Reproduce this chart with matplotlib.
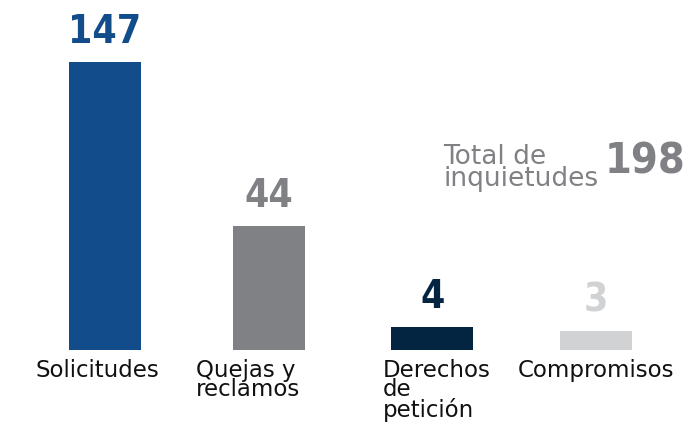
import matplotlib

matplotlib.use("Agg")
import matplotlib.pyplot as plt
import numpy as np

# ---------------------------------------------------------------------------
# Data
# ---------------------------------------------------------------------------
categories = ["Solicitudes", "Quejas y\nreclamos", "Derechos\nde\npetición", "Compromisos"]
values = [147, 44, 4, 3]
colors = ["#124c8a", "#808184", "#042541", "#d1d2d4"]
total_label = "Total de\ninquietudes"
total_value = 198

plt.rcParams["font.family"] = ["DejaVu Sans"]
NUM_STYLE = dict(family="DejaVu Sans", fontweight="bold", stretch="condensed")

W, H = 694, 425
fig = plt.figure(figsize=(W / 100, H / 100), dpi=100)
# axes spans full width; bottom at the bar baseline, top at the tallest bar
ax = fig.add_axes([0, 75 / H, 1, 288 / H])

# compressed power scale so the small categories stay visible
power = 0.7
ax.set_yscale(
    "function",
    functions=(lambda v: np.sign(v) * np.abs(v) ** power,
               lambda v: np.sign(v) * np.abs(v) ** (1 / power)),
)

x = np.arange(len(values))
ax.bar(x, values, width=[0.44, 0.44, 0.5, 0.44], color=colors)
ax.set_xlim(-0.642, 3.6)
ax.set_ylim(0, max(values))
ax.axis("off")

for xi, v, c in zip(x, values, colors):
    ax.annotate(str(v), (xi, v), xytext=(0, 8), textcoords="offset points",
                ha="center", va="bottom", fontsize=28, color=c,
                annotation_clip=False, **NUM_STYLE)

# category labels under the bars
label_x = [97, 196, 383, 518]
label_ha = ["center", "left", "left", "left"]
for lx, ha, txt in zip(label_x, label_ha, categories):
    fig.text(lx / W, 1 - 359 / H, txt, ha=ha, va="top", fontsize=16.5,
             color="#111111", linespacing=0.8)

# total annotation
fig.text(443 / W, 1 - 168 / H, total_label, ha="left", va="center",
         fontsize=19, color="#808184", linespacing=0.85)
fig.text(605 / W, 1 - 162 / H, str(total_value), ha="left", va="center",
         fontsize=31, color="#808184", **NUM_STYLE)

fig.savefig("out.png", dpi=100)
